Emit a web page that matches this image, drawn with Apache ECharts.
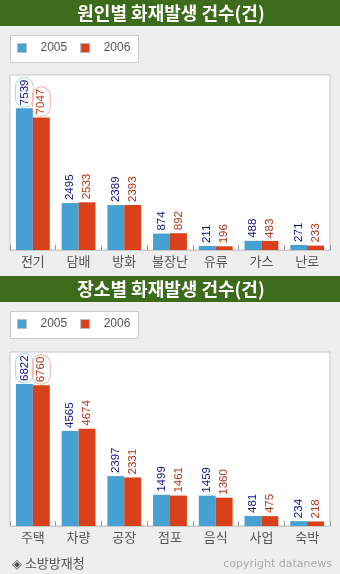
<!DOCTYPE html>
<html>
<head>
<meta charset="utf-8">
<script src="https://cdn.jsdelivr.net/npm/echarts@6/dist/echarts.min.js"></script>
<style>
html,body{margin:0;padding:0;background:#eeeeee;}
#c{width:340px;height:574px;}
</style>
</head>
<body>
<div id="c"></div>
<script>
var title1 = '원인별 화재발생 건수(건)';
var title2 = '장소별 화재발생 건수(건)';
var seriesNames = ['2005', '2006'];
var categories1 = ['전기', '담배', '방화', '불장난', '유류', '가스', '난로'];
var values2005a = [7539, 2495, 2389, 874, 211, 488, 271];
var values2006a = [7047, 2533, 2393, 892, 196, 483, 233];
var categories2 = ['주택', '차량', '공장', '점포', '음식', '사업', '숙박'];
var values2005b = [6822, 4565, 2397, 1499, 1459, 481, 234];
var values2006b = [6760, 4674, 2331, 1461, 1360, 475, 218];
var sourceText = '◈ 소방방재청';
var copyrightText = 'copyright datanews';

var KR = '"Noto Sans CJK KR", sans-serif';
var NUM = '"Liberation Sans", Arial, sans-serif';
var BLUE = '#46a0d2';
var RED = '#d8411a';

function buildData(vals, ringColor) {
  var mx = Math.max.apply(null, vals);
  return vals.map(function (v) {
    if (v === mx) {
      return {
        value: v,
        label: {
          borderColor: ringColor, borderWidth: 1, borderRadius: 9,
          padding: [3, 2, 3, 2], distance: 1
        }
      };
    }
    return v;
  });
}

function makeSeries(name, vals, idx, color, labelColor, ringColor) {
  return {
    name: name, type: 'bar', xAxisIndex: idx, yAxisIndex: idx,
    data: buildData(vals, ringColor),
    barCategoryGap: '26%', barGap: '0%',
    itemStyle: { color: color },
    label: {
      show: true, position: 'top', rotate: 90, align: 'left', verticalAlign: 'middle',
      distance: 3, color: labelColor, fontSize: 11.5, fontFamily: NUM
    },
    animation: false
  };
}

function xAxis(cats, idx) {
  return {
    type: 'category', gridIndex: idx, data: cats,
    axisLine: { show: true, lineStyle: { color: '#c8c8c8', width: 1 } },
    axisTick: { show: true, inside: true, length: 5, lineStyle: { color: '#999' } },
    axisLabel: { color: '#555', fontSize: 13, fontFamily: KR, margin: 5, interval: 0 },
    splitLine: { show: false }
  };
}
function yAxis(idx, max) {
  return {
    type: 'value', gridIndex: idx, min: 0, max: max, show: false,
    splitLine: { show: false }
  };
}

function legend(top) {
  return {
    data: seriesNames, left: 17, top: top, padding: 0, itemWidth: 9, itemHeight: 9, itemGap: 13,
    icon: 'rect', itemStyle: { borderColor: '#bbbbbb', borderWidth: 1 },
    textStyle: { color: '#555', fontSize: 12, fontFamily: NUM, padding: [0, 0, 0, 9] },
    selectedMode: false
  };
}

var chart = echarts.init(document.getElementById('c'));
chart.setOption({
  backgroundColor: '#eeeeee',
  animation: false,
  graphic: [
    { type: 'rect', shape: { x: 0, y: 0, width: 340, height: 26 }, style: { fill: '#3d6b1c' } },
    { type: 'text', x: 171, y: 13, style: { text: title1, align: 'center', verticalAlign: 'middle', font: 'bold 18px "Noto Sans CJK KR"', fill: '#ffffff' } },
    { type: 'rect', shape: { x: 10.5, y: 35.5, width: 128, height: 27 }, style: { fill: '#ffffff', stroke: '#cccccc', lineWidth: 1 } },
    { type: 'rect', shape: { x: 0, y: 276, width: 340, height: 26 }, style: { fill: '#3d6b1c' } },
    { type: 'text', x: 171, y: 289, style: { text: title2, align: 'center', verticalAlign: 'middle', font: 'bold 18px "Noto Sans CJK KR"', fill: '#ffffff' } },
    { type: 'rect', shape: { x: 10.5, y: 311.5, width: 128, height: 27 }, style: { fill: '#ffffff', stroke: '#cccccc', lineWidth: 1 } },
    { type: 'text', x: 12, y: 563, style: { text: sourceText, align: 'left', verticalAlign: 'middle', font: '13px "Noto Sans CJK KR"', fill: '#555555' } },
    { type: 'text', x: 332, y: 564, style: { text: copyrightText, align: 'right', verticalAlign: 'middle', font: '11px "DejaVu Sans"', fill: '#aaaaaa' } }
  ],
  legend: [legend(42), legend(318)],
  grid: [
    { left: 10, top: 75, width: 320, height: 175, show: true, backgroundColor: '#ffffff', borderColor: '#c8c8c8', borderWidth: 1 },
    { left: 10, top: 352, width: 320, height: 174, show: true, backgroundColor: '#ffffff', borderColor: '#c8c8c8', borderWidth: 1 }
  ],
  xAxis: [xAxis(categories1, 0), xAxis(categories2, 1)],
  yAxis: [yAxis(0, 9300), yAxis(1, 8360)],
  series: [
    makeSeries(seriesNames[0], values2005a, 0, BLUE, '#101080', '#a8d4ee'),
    makeSeries(seriesNames[1], values2006a, 0, RED, '#b0381c', '#eeb0a0'),
    makeSeries(seriesNames[0], values2005b, 1, BLUE, '#101080', '#a8d4ee'),
    makeSeries(seriesNames[1], values2006b, 1, RED, '#b0381c', '#eeb0a0')
  ]
});
</script>
</body>
</html>
